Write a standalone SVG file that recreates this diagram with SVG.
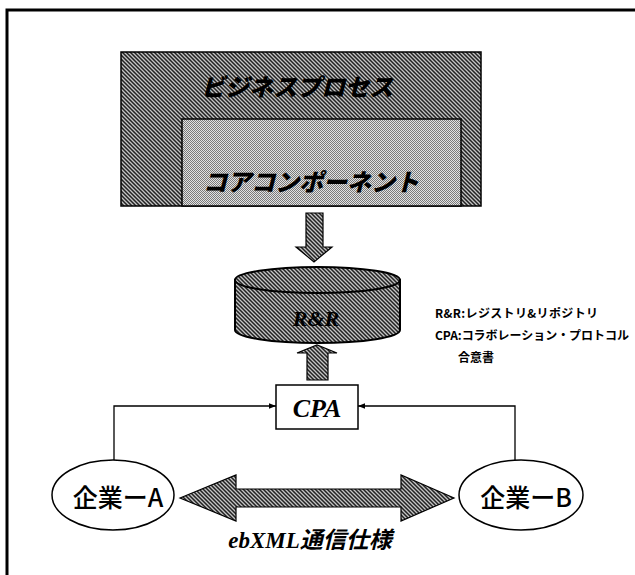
<svg xmlns="http://www.w3.org/2000/svg" width="635" height="575" viewBox="0 0 635 575">
<defs>
<pattern id="hatch" width="4" height="4" patternUnits="userSpaceOnUse">
<rect width="4" height="4" fill="#222"/>
<path d="M-1,-1 L5,5 M-1,3 L1,5 M3,-1 L5,1" stroke="#c4c4c4" stroke-width="1.3"/>
</pattern>
<pattern id="dots" width="2" height="2" patternUnits="userSpaceOnUse">
<rect width="2" height="2" fill="#e2e2e2"/>
<rect width="1" height="1" fill="#7a7a7a"/>
<rect x="1" y="1" width="1" height="1" fill="#7a7a7a"/>
</pattern>
<marker id="arr" viewBox="0 0 10 10" refX="10" refY="5" markerWidth="7" markerHeight="7" orient="auto" markerUnits="userSpaceOnUse">
<path d="M0,1 L10,5 L0,9 z" fill="#000"/>
</marker>
<style>
.kt{font-family:"Noto Sans CJK JP","Noto Sans",sans-serif;font-weight:900;font-style:italic;fill:#000}
.ser{font-family:"Liberation Serif","Noto Sans CJK JP",serif;font-weight:bold;font-style:italic;fill:#000}
.jp{font-family:"Noto Sans CJK JP","Noto Sans",sans-serif;font-weight:500;fill:#000}
.leg{font-family:"Noto Sans CJK JP","Liberation Sans",sans-serif;font-weight:bold;font-size:12px;fill:#000}
.ln{fill:none;stroke:#000;stroke-width:1.3}
</style>
</defs>
<rect x="7" y="10" width="640" height="580" fill="#fff" stroke="#000" stroke-width="3"/>

<g id="business-process">
<rect x="121" y="52" width="360" height="154" fill="url(#hatch)" stroke="#000" stroke-width="1.5"/>
<text class="kt" x="297" y="96" font-size="24" text-anchor="middle">ビジネスプロセス</text>
</g>
<g id="core-component">
<rect x="182" y="119" width="279" height="87" fill="url(#dots)" stroke="#000" stroke-width="1.5"/>
<text class="kt" x="311" y="191" font-size="24" text-anchor="middle">コアコンポーネント</text>
</g>

<g id="rr">
<path d="M235,280 L235,330 A82.5,13 0 0 0 400,330 L400,280 Z" fill="url(#hatch)" stroke="#000" stroke-width="2"/>
<ellipse cx="317.5" cy="280" rx="82.5" ry="13" fill="url(#hatch)" stroke="#000" stroke-width="2"/>
<text class="ser" x="316" y="326" font-size="22" text-anchor="middle">R&amp;R</text>
</g>

<g id="cpa">
<rect x="276" y="385" width="82" height="44" fill="#fff" stroke="#000" stroke-width="1.5"/>
<text class="ser" x="317" y="417" font-size="26" text-anchor="middle">CPA</text>
</g>

<g id="company-a">
<ellipse cx="113" cy="495" rx="61" ry="35" fill="#fff" stroke="#000" stroke-width="1.5"/>
<text class="jp" x="118" y="507" font-size="25" text-anchor="middle">企業ーA</text>
</g>
<g id="company-b">
<ellipse cx="521" cy="495" rx="62" ry="35" fill="#fff" stroke="#000" stroke-width="1.5"/>
<text class="jp" x="526" y="507" font-size="25" text-anchor="middle">企業ーB</text>
</g>

<g id="legend">
<text class="leg" x="435" y="318" textLength="163">R&amp;R:レジストリ&amp;リポジトリ</text>
<text class="leg" x="435" y="340" textLength="194">CPA:コラボレーション・プロトコル</text>
<text class="leg" x="458" y="362">合意書</text>
</g>

<g id="connectors">
<polygon points="306,213 323,213 323,247 332,247 314,262 296,247 306,247" fill="url(#hatch)" stroke="#000" stroke-width="1.2"/>
<polygon points="307,380 328,380 328,353 337,353 317,345 297,353 307,353" fill="url(#hatch)" stroke="#000" stroke-width="1.2"/>
<polyline class="ln" points="114,460 114,406 276,406" marker-end="url(#arr)"/>
<polyline class="ln" points="515,460 515,406 358,406" marker-end="url(#arr)"/>
<polygon points="180,498 236,475 236,489 401,489 401,475 454,498 401,521 401,507 236,507 236,521" fill="url(#hatch)" stroke="#000" stroke-width="1.2"/>
<text class="ser" x="310" y="548" font-size="23" text-anchor="middle">ebXML通信仕様</text>
</g>
</svg>
